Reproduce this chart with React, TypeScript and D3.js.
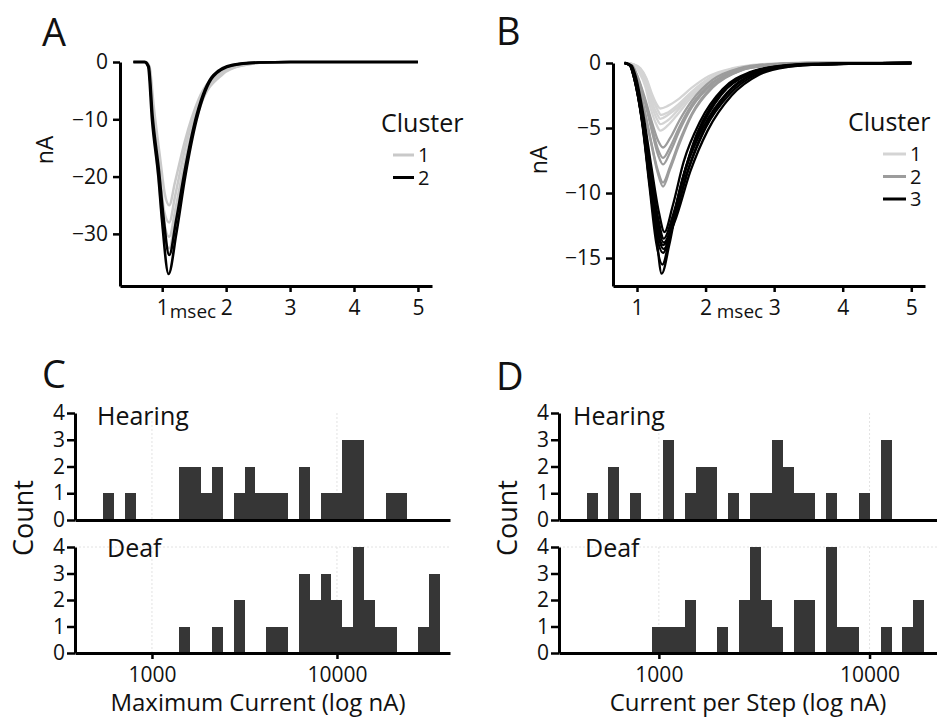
import { useEffect, useRef } from "react";
import * as d3 from "d3";

const width = 937;
const height = 720;
const font = "'Open Sans', sans-serif";

// ---- panel A: current traces, [msec, nA] ----
const aCluster1 = [
  [[0.55, 0], [0.74, 0], [0.8, -0.8], [0.87, -8], [0.97, -17], [1.04, -23], [1.11, -25], [1.2, -21], [1.35, -14], [1.57, -6.5], [1.9, -1.8], [2.2, -0.5], [2.6, -0.1], [3, 0], [5, 0]],
  [[0.55, 0], [0.74, 0], [0.8, -0.9], [0.86, -9], [0.96, -19], [1.03, -26], [1.11, -28], [1.2, -23.5], [1.35, -15.5], [1.57, -7.2], [1.92, -2], [2.2, -0.6], [2.6, -0.1], [3, 0], [5, 0]],
  [[0.55, 0], [0.73, 0], [0.79, -0.9], [0.86, -10], [0.96, -20.5], [1.03, -28], [1.11, -30.5], [1.21, -25.5], [1.36, -17], [1.58, -7.8], [1.92, -2.1], [2.25, -0.6], [2.6, -0.1], [3, 0], [5, 0]],
  [[0.55, 0], [0.73, 0], [0.79, -0.9], [0.85, -10], [0.95, -21], [1.02, -29.5], [1.11, -32.5], [1.21, -27], [1.37, -17.5], [1.6, -7.6], [1.95, -2.1], [2.25, -0.6], [2.6, -0.1], [3, 0], [5, 0]],
];
const aCluster2 = [
  [[0.55, 0], [0.73, 0], [0.79, -0.8], [0.85, -9.5], [0.95, -19], [1.02, -27], [1.11, -33.7], [1.22, -27.5], [1.36, -18.5], [1.54, -9.2], [1.8, -2.3], [2.1, -0.5], [2.5, -0.1], [3, 0], [5, 0]],
  [[0.55, 0], [0.72, 0], [0.78, -0.8], [0.84, -10], [0.94, -20], [1.0, -28], [1.1, -37], [1.22, -30], [1.36, -20], [1.54, -10], [1.8, -2.5], [2.1, -0.6], [2.5, -0.1], [3, 0], [5, 0]],
];

// ---- panel B: current traces, [msec, nA] ----
const bCluster1 = [
  [[0.82, 0], [0.95, -0.1], [1.05, -0.4], [1.14, -1.2], [1.22, -2.4], [1.29, -3.2], [1.34, -3.5], [1.45, -3.3], [1.6, -2.8], [1.8, -1.9], [2.05, -1.0], [2.4, -0.4], [2.8, -0.1], [3.4, 0], [5, 0]],
  [[0.82, 0], [0.95, -0.1], [1.05, -0.5], [1.14, -1.3], [1.22, -2.7], [1.3, -3.6], [1.35, -4.0], [1.45, -3.8], [1.6, -3.2], [1.8, -2.2], [2.05, -1.2], [2.4, -0.45], [2.8, -0.15], [3.4, -0.05], [5, 0]],
  [[0.82, 0], [0.94, -0.1], [1.04, -0.5], [1.13, -1.4], [1.21, -2.9], [1.29, -3.9], [1.34, -4.3], [1.45, -4.0], [1.6, -3.4], [1.8, -2.3], [2.05, -1.2], [2.4, -0.5], [2.8, -0.15], [3.4, -0.05], [5, 0]],
  [[0.82, 0], [0.94, -0.1], [1.04, -0.6], [1.13, -1.6], [1.21, -3.2], [1.29, -4.3], [1.34, -4.7], [1.45, -4.4], [1.6, -3.6], [1.8, -2.4], [2.05, -1.3], [2.4, -0.5], [2.8, -0.15], [3.4, -0.05], [5, 0]],
  [[0.82, 0], [0.93, -0.1], [1.03, -0.7], [1.12, -1.8], [1.2, -3.5], [1.28, -4.7], [1.34, -5.2], [1.45, -4.8], [1.6, -3.9], [1.8, -2.6], [2.05, -1.4], [2.4, -0.55], [2.8, -0.2], [3.4, -0.05], [5, 0]],
];
const bCluster2 = [
  [[0.82, 0], [0.93, -0.2], [1.0, -0.9], [1.12, -2.8], [1.22, -4.6], [1.31, -6.0], [1.38, -6.5], [1.48, -5.8], [1.62, -4.4], [1.8, -2.9], [2.1, -1.3], [2.5, -0.4], [2.9, -0.1], [3.5, 0], [5, 0]],
  [[0.82, 0], [0.93, -0.2], [1.0, -1.0], [1.12, -3.0], [1.22, -5.0], [1.31, -6.7], [1.38, -7.3], [1.48, -6.5], [1.62, -4.9], [1.8, -3.2], [2.1, -1.5], [2.5, -0.5], [2.9, -0.15], [3.5, 0], [5, 0]],
  [[0.82, 0], [0.93, -0.2], [1.0, -1.0], [1.12, -3.1], [1.22, -5.3], [1.31, -7.1], [1.38, -7.8], [1.48, -6.9], [1.62, -5.2], [1.8, -3.4], [2.1, -1.6], [2.5, -0.5], [2.9, -0.15], [3.5, 0], [5, 0]],
  [[0.82, 0], [0.92, -0.2], [0.98, -1.0], [1.1, -3.4], [1.2, -5.9], [1.3, -8.2], [1.38, -9.2], [1.48, -8.0], [1.62, -6.0], [1.8, -3.9], [2.1, -1.8], [2.5, -0.6], [2.9, -0.2], [3.5, -0.05], [5, 0]],
  [[0.82, 0], [0.92, -0.2], [0.98, -1.0], [1.1, -3.5], [1.2, -6.0], [1.3, -8.4], [1.38, -9.5], [1.48, -8.2], [1.62, -6.2], [1.8, -4.0], [2.1, -1.9], [2.5, -0.6], [2.9, -0.2], [3.5, -0.05], [5, 0]],
];
const bCluster3 = [
  [[0.82, 0], [0.92, -0.2], [0.98, -1.0], [1.1, -4.2], [1.21, -8.0], [1.32, -11.5], [1.4, -13.0], [1.52, -11.0], [1.68, -7.6], [1.92, -4.5], [2.25, -2.0], [2.65, -0.7], [3.05, -0.25], [3.6, -0.05], [5, 0]],
  [[0.82, 0], [0.91, -0.2], [0.97, -1.0], [1.09, -4.3], [1.2, -8.3], [1.31, -12.0], [1.39, -13.5], [1.53, -11.6], [1.72, -8.0], [1.97, -4.9], [2.31, -2.3], [2.7, -0.8], [3.1, -0.3], [3.6, -0.1], [5, 0]],
  [[0.82, 0], [0.91, -0.2], [0.96, -1.0], [1.09, -4.4], [1.2, -8.5], [1.3, -12.3], [1.39, -13.8], [1.54, -12.0], [1.75, -8.2], [2.0, -5.0], [2.35, -2.4], [2.75, -0.85], [3.15, -0.3], [3.7, -0.1], [5, 0]],
  [[0.82, 0], [0.9, -0.2], [0.95, -0.9], [1.08, -4.5], [1.19, -8.7], [1.29, -12.6], [1.38, -14.0], [1.55, -12.2], [1.78, -8.3], [2.03, -5.2], [2.38, -2.5], [2.78, -0.9], [3.2, -0.3], [3.7, -0.1], [5, 0]],
  [[0.82, 0], [0.9, -0.2], [0.95, -1.0], [1.08, -4.6], [1.19, -8.9], [1.29, -12.8], [1.39, -14.3], [1.53, -12.4], [1.72, -8.6], [1.97, -5.2], [2.31, -2.4], [2.7, -0.85], [3.1, -0.3], [3.6, -0.1], [5, 0]],
  [[0.82, 0], [0.9, -0.2], [0.95, -1.0], [1.08, -4.7], [1.18, -9.1], [1.28, -13.1], [1.38, -14.6], [1.5, -12.6], [1.66, -9.0], [1.9, -5.4], [2.22, -2.5], [2.6, -0.9], [3.0, -0.3], [3.5, -0.1], [5, 0]],
  [[0.82, 0], [0.9, -0.2], [0.95, -1.0], [1.08, -4.8], [1.18, -9.4], [1.28, -13.8], [1.37, -15.5], [1.48, -13.3], [1.62, -9.8], [1.84, -6.0], [2.15, -2.8], [2.55, -1.0], [2.95, -0.35], [3.5, -0.1], [5, 0]],
  [[0.82, 0], [0.9, -0.2], [0.96, -1.0], [1.08, -4.6], [1.18, -9.0], [1.28, -13.2], [1.36, -16.2], [1.47, -14.0], [1.6, -10.5], [1.8, -6.5], [2.1, -3.2], [2.5, -1.2], [2.95, -0.4], [3.5, -0.1], [5, 0]],
];

// ---- panels C / D: log-binned histograms (counts per bin) ----
const cBinLo = 546; // nA, lower edge of the first bin
const cBinStep = 0.0587; // bin width in log10 units
const cHearing = [1, 0, 1, 0, 0, 0, 0, 2, 2, 1, 2, 0, 1, 2, 1, 1, 1, 0, 2, 0, 1, 1, 3, 3, 0, 0, 1, 1, 0, 0, 0];
const cDeaf = [0, 0, 0, 0, 0, 0, 0, 1, 0, 0, 1, 0, 2, 0, 0, 1, 1, 0, 3, 2, 3, 2, 1, 4, 2, 1, 1, 0, 0, 1, 3];

const dBinLo = 454;
const dBinStep = 0.0517;
const dHearing = [1, 0, 2, 0, 1, 0, 0, 3, 0, 1, 2, 2, 0, 1, 0, 1, 1, 3, 2, 1, 1, 0, 1, 0, 0, 1, 0, 3, 0, 0, 0];
const dDeaf = [0, 0, 0, 0, 0, 0, 1, 1, 1, 2, 0, 0, 1, 0, 2, 4, 2, 1, 0, 2, 2, 0, 4, 1, 1, 0, 0, 1, 0, 1, 2];

const countTicks = [0, 1, 2, 3, 4];
const logTicks = [1000, 10000];

function styleAxis(g, size) {
  g.select(".domain").attr("stroke", "#000").attr("stroke-width", 3);
  g.selectAll(".tick line").attr("stroke", "#000").attr("stroke-width", 2.5);
  g.selectAll(".tick text")
    .attr("fill", "#111")
    .style("font-family", font)
    .style("font-size", size + "px");
}

function App() {
  const d3Node = useRef(null);

  useEffect(() => {
    const root = d3.select(d3Node.current);
    root.selectAll("*").remove();
    const svg = root
      .append("svg")
      .attr("width", width)
      .attr("height", height)
      .attr("viewBox", [0, 0, width, height])
      .style("background", "#fff");

    const text = (x, y, str, size, anchor = "start", rotate = false) => {
      const t = svg
        .append("text")
        .attr("x", x)
        .attr("y", y)
        .attr("text-anchor", anchor)
        .style("font-family", font)
        .style("font-size", size + "px")
        .attr("fill", "#111")
        .text(str);
      if (rotate) t.attr("transform", `rotate(-90, ${x}, ${y})`);
      return t;
    };

    // panel letters
    text(42, 46, "A", 38);
    text(496, 45, "B", 38);
    text(42, 388, "C", 38);
    text(496, 390, "D", 38);

    // ---------- trace panels ----------
    const tracePanel = (opt) => {
      const x = d3.scaleLinear().domain(opt.xDomain).range(opt.xRange);
      const y = d3.scaleLinear().domain(opt.yDomain).range(opt.yRange);
      const line = d3
        .line()
        .x((d) => x(d[0]))
        .y((d) => y(d[1]))
        .curve(d3.curveMonotoneX);

      opt.groups.forEach((grp) => {
        svg
          .append("g")
          .selectAll("path")
          .data(grp.traces)
          .enter()
          .append("path")
          .attr("fill", "none")
          .attr("stroke", grp.color)
          .attr("stroke-width", grp.width)
          .attr("stroke-linejoin", "round")
          .attr("d", line);
      });

      const ax = svg
        .append("g")
        .attr("transform", `translate(0,${opt.yRange[0]})`)
        .call(d3.axisBottom(x).tickValues(opt.xTicks).tickSize(6).tickSizeOuter(0).tickPadding(8).tickFormat(d3.format("d")));
      styleAxis(ax, 21);
      const ay = svg
        .append("g")
        .attr("transform", `translate(${opt.xRange[0]},0)`)
        .call(d3.axisLeft(y).tickValues(opt.yTicks).tickSize(7).tickSizeOuter(0).tickPadding(5));
      styleAxis(ay, 21);

      text(opt.titleX, 318, "msec", 19, "middle");
      text(opt.nAX, opt.nAY, "nA", 23, "middle", true);

      // legend
      text(opt.legX, opt.legY, "Cluster", 25);
      opt.groups.forEach((grp, i) => {
        const ly = opt.legY + 23 + i * 22.5;
        svg
          .append("line")
          .attr("x1", opt.lineX[0])
          .attr("x2", opt.lineX[1])
          .attr("y1", ly)
          .attr("y2", ly)
          .attr("stroke", grp.color)
          .attr("stroke-width", 3);
        text(opt.lineX[1] + 4, ly + 7, String(i + 1), 20);
      });
    };

    tracePanel({
      xDomain: [0.34, 5.22],
      xRange: [120, 432],
      yDomain: [-39.1, 0],
      yRange: [286, 62],
      xTicks: [1, 2, 3, 4, 5],
      yTicks: [0, -10, -20, -30],
      groups: [
        { traces: aCluster1, color: "#c9c9c9", width: 2.5 },
        { traces: aCluster2, color: "#000", width: 2.6 },
      ],
      titleX: 193,
      nAX: 53,
      nAY: 150,
      legX: 381,
      legY: 132,
      lineX: [393, 414],
    });

    tracePanel({
      xDomain: [0.65, 5.2],
      xRange: [613, 925],
      yDomain: [-17.15, 0],
      yRange: [286, 63],
      xTicks: [1, 2, 3, 4, 5],
      yTicks: [0, -5, -10, -15],
      groups: [
        { traces: bCluster1, color: "#d4d4d4", width: 2.3 },
        { traces: bCluster2, color: "#9c9c9c", width: 2.3 },
        { traces: bCluster3, color: "#000", width: 2.3 },
      ],
      titleX: 740,
      nAX: 547,
      nAY: 160,
      legX: 848,
      legY: 131,
      lineX: [883, 906],
    });

    // ---------- histogram panels ----------
    const histPanel = (opt) => {
      const x = d3.scaleLog().domain(opt.xDomain).range(opt.xRange);
      opt.rows.forEach((row, r) => {
        const y = d3.scaleLinear().domain([0, 4]).range(row.yRange);
        const g = svg.append("g");

        // faint guide lines
        logTicks.forEach((v) => {
          g.append("line")
            .attr("x1", x(v))
            .attr("x2", x(v))
            .attr("y1", y(4))
            .attr("y2", y(0))
            .attr("stroke", "#e2e2e2")
            .attr("stroke-dasharray", "2,2");
        });
        if (r === 1) {
          g.append("line")
            .attr("x1", opt.xRange[0])
            .attr("x2", opt.xRange[1])
            .attr("y1", y(4))
            .attr("y2", y(4))
            .attr("stroke", "#e2e2e2")
            .attr("stroke-dasharray", "2,2");
        }

        g.selectAll("rect")
          .data(row.counts)
          .enter()
          .append("rect")
          .attr("x", (d, i) => x(opt.binLo * Math.pow(10, opt.binStep * i)))
          .attr("width", (d, i) => x(opt.binLo * Math.pow(10, opt.binStep * (i + 1))) - x(opt.binLo * Math.pow(10, opt.binStep * i)))
          .attr("y", (d) => y(d))
          .attr("height", (d) => y(0) - y(d))
          .attr("fill", "#363636")
          .attr("shape-rendering", "crispEdges");

        const ax = svg
          .append("g")
          .attr("transform", `translate(0,${row.yRange[0]})`)
          .call(
            d3
              .axisBottom(x)
              .tickValues(r === 1 ? logTicks : [])
              .tickSize(6)
              .tickSizeOuter(0)
              .tickPadding(8)
              .tickFormat(d3.format("d"))
          );
        styleAxis(ax, 21);
        const ay = svg
          .append("g")
          .attr("transform", `translate(${opt.xRange[0]},0)`)
          .call(d3.axisLeft(y).tickValues(countTicks).tickSize(8).tickSizeOuter(0).tickPadding(2).tickFormat(d3.format("d")));
        styleAxis(ay, 21);

        text(row.labelX, row.labelY, row.label, 25);
      });

      text(opt.countX, 518, "Count", 27, "middle", true);
      text(opt.titleX, 711, opt.title, 24, "middle");
    };

    histPanel({
      xDomain: [383.7, 40830],
      xRange: [75, 450],
      binLo: cBinLo,
      binStep: cBinStep,
      rows: [
        { counts: cHearing, yRange: [520, 413], label: "Hearing", labelX: 97, labelY: 425 },
        { counts: cDeaf, yRange: [653, 547], label: "Deaf", labelX: 107, labelY: 557 },
      ],
      countX: 33,
      titleX: 258,
      title: "Maximum Current (log nA)",
    });

    histPanel({
      xDomain: [335.7, 20900],
      xRange: [559, 937],
      binLo: dBinLo,
      binStep: dBinStep,
      rows: [
        { counts: dHearing, yRange: [520, 413], label: "Hearing", labelX: 573, labelY: 425 },
        { counts: dDeaf, yRange: [653, 547], label: "Deaf", labelX: 585, labelY: 557 },
      ],
      countX: 517,
      titleX: 748,
      title: "Current per Step  (log nA)",
    });
  }, []);

  return <div ref={d3Node} style={{ position: "absolute", left: 0, top: 0 }} />;
}

export default App;
